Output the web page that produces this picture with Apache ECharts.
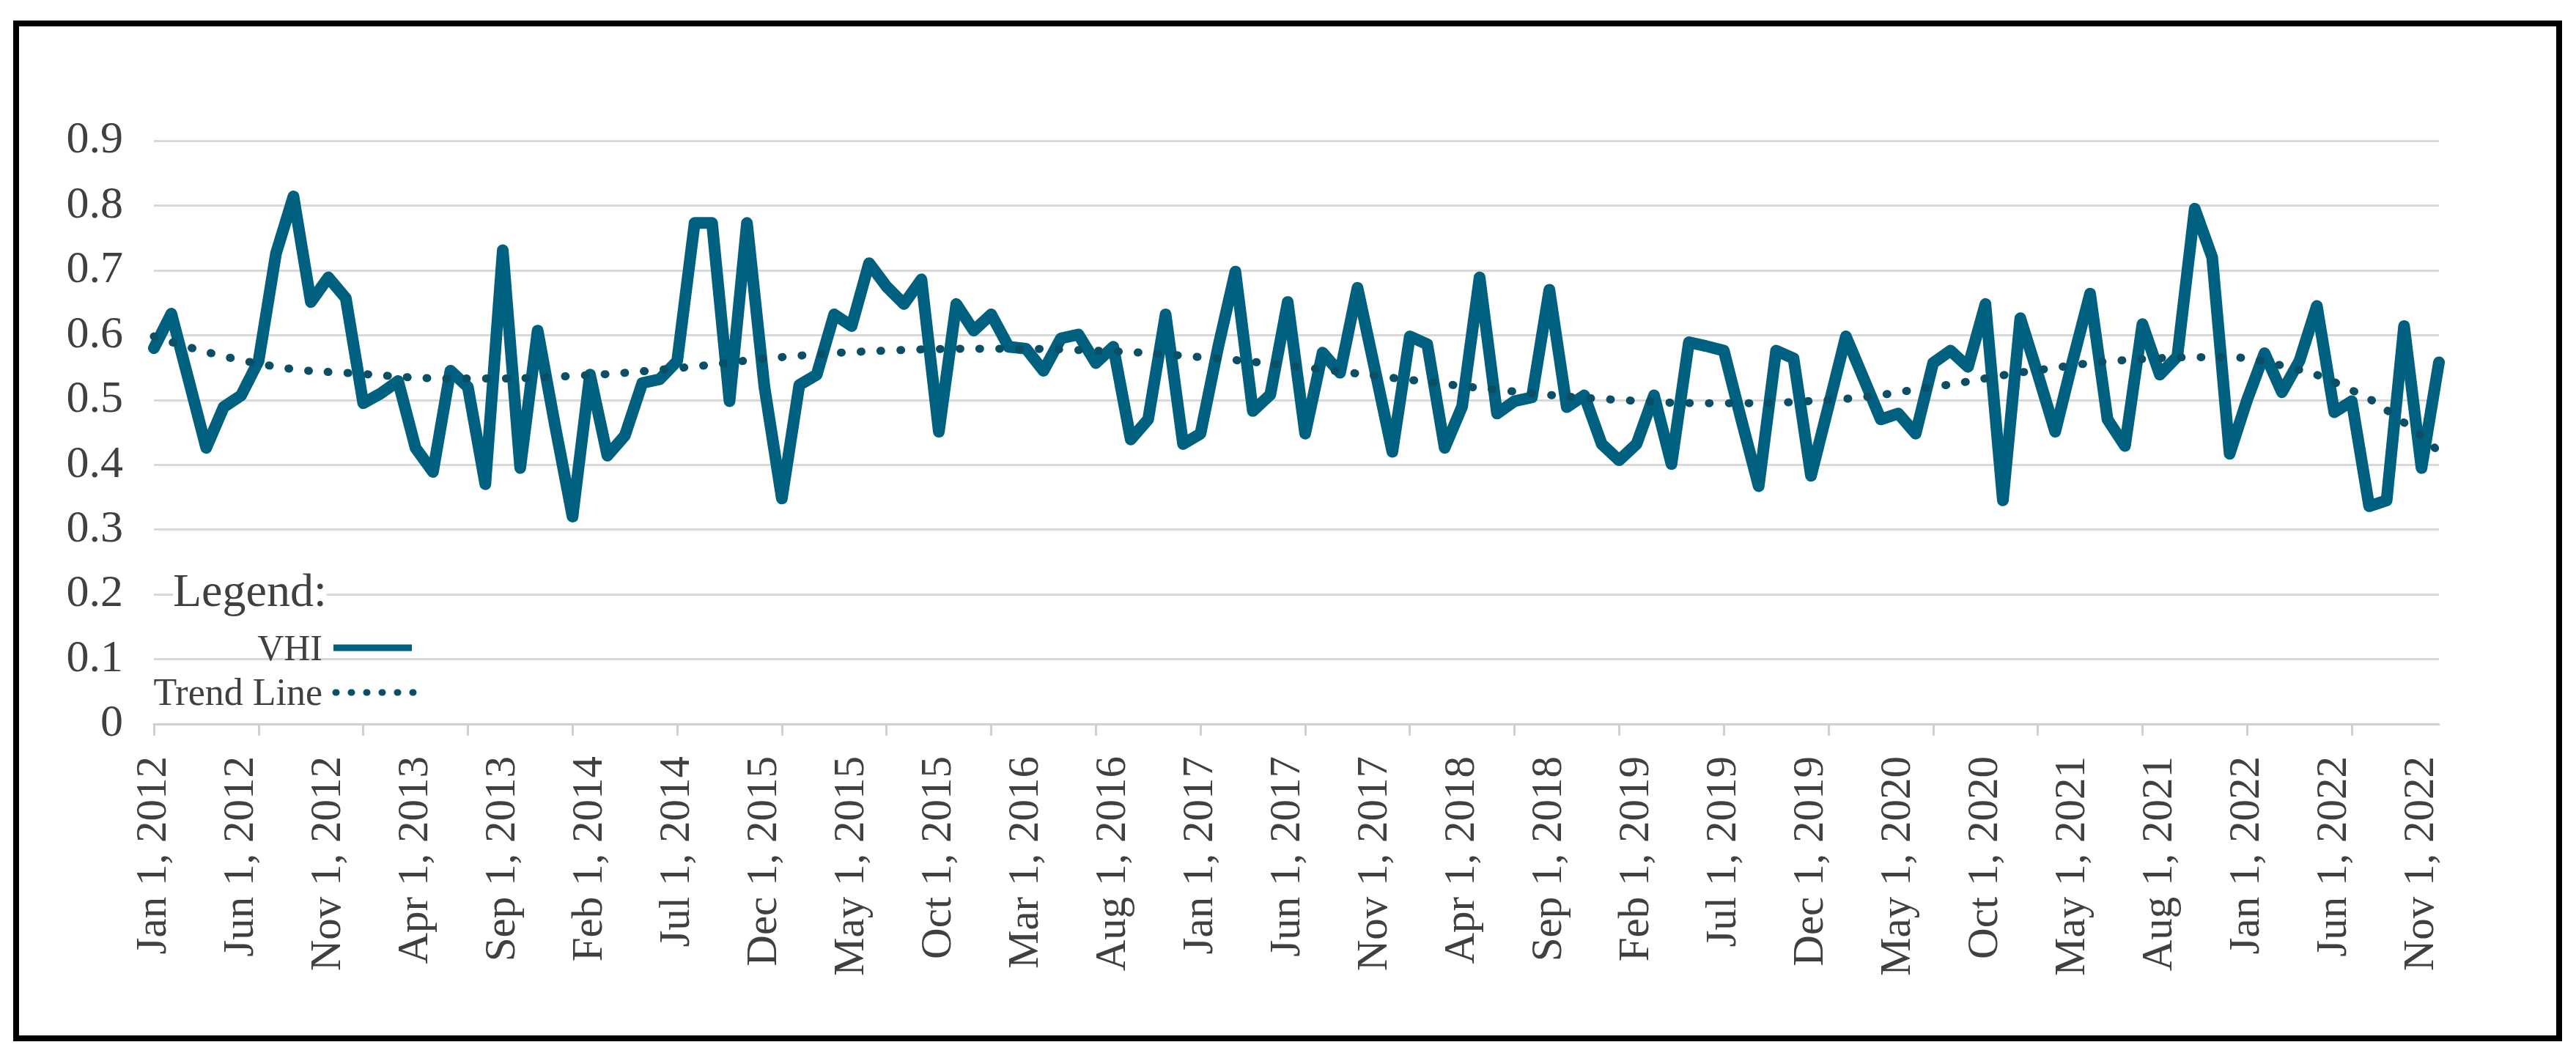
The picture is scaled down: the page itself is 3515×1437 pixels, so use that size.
<!DOCTYPE html>
<html>
<head>
<meta charset="utf-8">
<script src="https://cdn.jsdelivr.net/npm/echarts@6/dist/echarts.min.js"></script>
<style>
html,body{margin:0;padding:0;background:#fff;}
#chart{width:3515px;height:1437px;}
</style>
</head>
<body>
<div id="chart"></div>
<script>
// Monthly categories Jan 2012 .. Dec 2022 (132 months)
const monthNames = ['Jan','Feb','Mar','Apr','May','Jun','Jul','Aug','Sep','Oct','Nov','Dec'];
const categories = [];
for (let y = 2012; y <= 2022; y++) {
  for (let m = 0; m < 12; m++) categories.push(monthNames[m] + ' ' + y);
}

// Axis tick labels as printed (every 5th month)
const tickLabels = [
  'Jan 1, 2012','Jun 1, 2012','Nov 1, 2012','Apr 1, 2013','Sep 1, 2013','Feb 1, 2014',
  'Jul 1, 2014','Dec 1, 2015','May 1, 2015','Oct 1, 2015','Mar 1, 2016','Aug 1, 2016',
  'Jan 1, 2017','Jun 1, 2017','Nov 1, 2017','Apr 1, 2018','Sep 1, 2018','Feb 1, 2019',
  'Jul 1, 2019','Dec 1, 2019','May 1, 2020','Oct 1, 2020','May 1, 2021','Aug 1, 2021',
  'Jan 1, 2022','Jun 1, 2022','Nov 1, 2022'
];

// VHI values, one per month
const vhi2012 = [0.58,0.633,0.53,0.426,0.489,0.507,0.56,0.726,0.814,0.651,0.689,0.657];
const vhi2013 = [0.495,0.51,0.529,0.426,0.389,0.545,0.52,0.37,0.731,0.395,0.607,0.46];
const vhi2014 = [0.32,0.539,0.414,0.445,0.526,0.532,0.56,0.773,0.773,0.498,0.773,0.52];
const vhi2015 = [0.348,0.523,0.539,0.632,0.614,0.711,0.675,0.648,0.686,0.451,0.648,0.607];
const vhi2016 = [0.632,0.582,0.579,0.545,0.595,0.601,0.557,0.582,0.439,0.47,0.632,0.432];
const vhi2017 = [0.448,0.58,0.698,0.483,0.508,0.651,0.448,0.573,0.542,0.673,0.547,0.42];
const vhi2018 = [0.598,0.586,0.426,0.49,0.689,0.479,0.498,0.504,0.67,0.489,0.507,0.432];
const vhi2019 = [0.407,0.432,0.507,0.401,0.589,0.583,0.576,0.47,0.367,0.576,0.564,0.383];
const vhi2020 = [0.49,0.598,0.534,0.47,0.479,0.448,0.557,0.576,0.551,0.648,0.345,0.626];
const vhi2021 = [0.54,0.451,0.56,0.664,0.47,0.429,0.617,0.539,0.567,0.795,0.72,0.417];
const vhi2022 = [0.5,0.572,0.512,0.56,0.645,0.481,0.498,0.336,0.345,0.614,0.395,0.558];
const vhiValues = [].concat(vhi2012,vhi2013,vhi2014,vhi2015,vhi2016,vhi2017,vhi2018,vhi2019,vhi2020,vhi2021,vhi2022);

// Trend line values read at selected month indices
const trendIndex = [0,6,12,18,24,30,36,42,48,54,60,66,72,78,84,90,96,102,108,114,118,122,126,129,131];
const trendValues = [0.598,0.556,0.540,0.533,0.537,0.549,0.566,0.576,0.579,0.576,0.566,0.550,0.531,0.513,0.500,0.495,0.500,0.520,0.546,0.563,0.566,0.553,0.515,0.465,0.420];

const yTicks = [0,0.1,0.2,0.3,0.4,0.5,0.6,0.7,0.8,0.9];

const FONT = 'Liberation Serif';
const TXT = '#404040';
const VHI_COLOR = '#00607f';
const TREND_COLOR = '#0b4f66';

const chart = echarts.init(document.getElementById('chart'));
chart.setOption({
  backgroundColor: '#ffffff',
  animation: false,
  grid: {left: 210, right: 187, top: 192, bottom: 449, containLabel: false},
  xAxis: {
    type: 'category',
    data: categories,
    boundaryGap: false,
    axisLine: {show: true, lineStyle: {color: '#d0d0d0', width: 3}},
    axisTick: {show: true, interval: 5, length: 16, lineStyle: {color: '#d0d0d0', width: 3}},
    axisLabel: {
      interval: 4,
      rotate: 90,
      margin: 44,
      fontFamily: FONT,
      fontSize: 59,
      color: TXT,
      hideOverlap: false,
      formatter: function (value, index) {
        return index % 5 === 0 ? (tickLabels[index / 5] || '') : '';
      }
    },
    splitLine: {show: false}
  },
  yAxis: {
    type: 'value',
    min: yTicks[0],
    max: yTicks[yTicks.length - 1],
    interval: 0.1,
    axisLine: {show: false},
    axisTick: {show: false},
    axisLabel: {
      margin: 42,
      fontFamily: FONT,
      fontSize: 62,
      color: TXT,
      formatter: function (v) { return String(Number(v.toFixed(1))); }
    },
    splitLine: {show: true, lineStyle: {color: '#d9d9d9', width: 3}}
  },
  series: [
    {
      name: 'VHI',
      type: 'line',
      data: vhiValues,
      symbol: 'none',
      smooth: false,
      lineStyle: {color: VHI_COLOR, width: 16, join: 'round', cap: 'round'},
      z: 2
    },
    {
      name: 'Trend Line',
      type: 'line',
      data: trendIndex.map((ix, i) => [ix, trendValues[i]]),
      symbol: 'none',
      smooth: 0.5,
      lineStyle: {color: TREND_COLOR, width: 11, type: [1, 26], cap: 'round'},
      z: 3
    }
  ],
  graphic: [
    {
      type: 'rect',
      shape: {x: 22, y: 32, width: 3470, height: 1385},
      style: {fill: 'none', stroke: '#000', lineWidth: 8},
      z: 10
    },
    {
      type: 'text',
      left: 236, top: 778,
      style: {text: 'Legend:', font: '64px "Liberation Serif"', fill: TXT, backgroundColor: '#fff'},
      z: 10
    },
    {
      type: 'text',
      x: 440, y: 888,
      style: {text: 'VHI', font: '50px "Liberation Serif"', fill: TXT, align: 'right', verticalAlign: 'middle'},
      z: 10
    },
    {
      type: 'line',
      shape: {x1: 455, y1: 884, x2: 562, y2: 884},
      style: {stroke: VHI_COLOR, lineWidth: 9},
      z: 10
    },
    {
      type: 'text',
      x: 440, y: 948,
      style: {text: 'Trend Line', font: '52px "Liberation Serif"', fill: TXT, align: 'right', verticalAlign: 'middle'},
      z: 10
    },
    {
      type: 'line',
      shape: {x1: 458, y1: 945, x2: 566, y2: 945},
      style: {stroke: TREND_COLOR, lineWidth: 9, lineDash: [1, 20], lineCap: 'round'},
      z: 10
    }
  ]
});
</script>
</body>
</html>
